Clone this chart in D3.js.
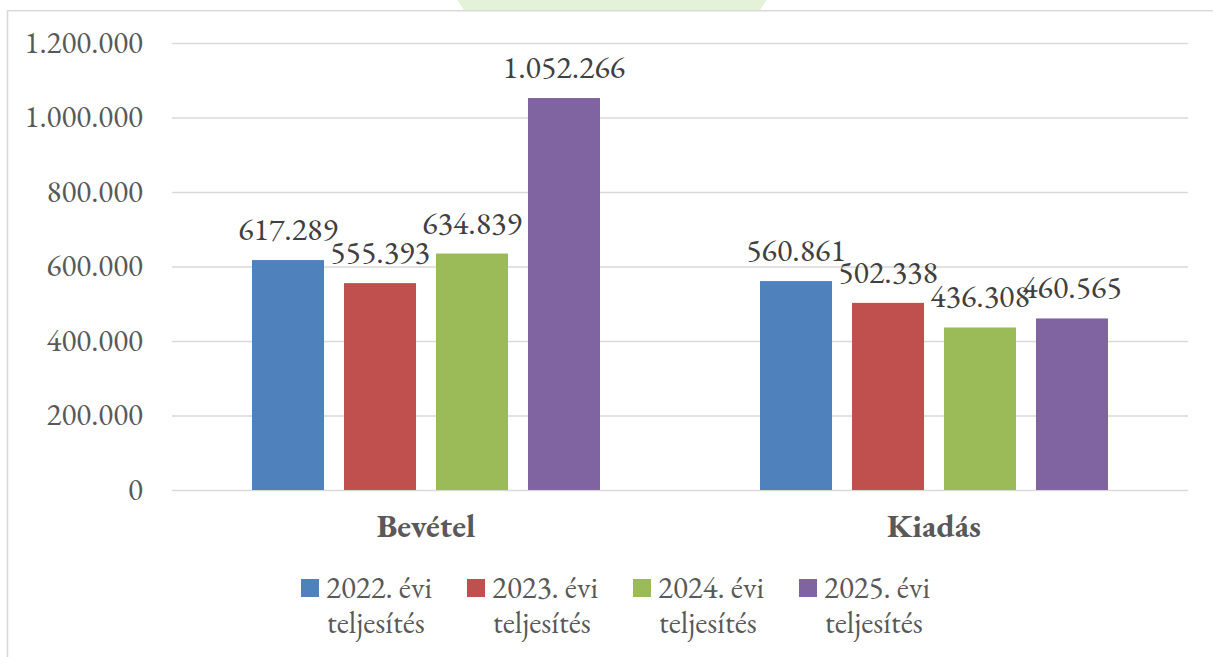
<!DOCTYPE html>
<html>
<head>
<meta charset="utf-8">
<script src="https://cdn.jsdelivr.net/npm/d3@7"></script>
<style>
  body { margin: 0; background: #fff; }
</style>
</head>
<body>
<div id="chart"></div>
<script>
(function barChart(){

  //data
  var categories = ['Bevétel', 'Kiadás'];
  var series = ['2022. évi teljesítés', '2023. évi teljesítés', '2024. évi teljesítés', '2025. évi teljesítés'];
  var values2022 = [617289, 560861];
  var values2023 = [555393, 502338];
  var values2024 = [634839, 436308];
  var values2025 = [1052266, 460565];
  var yTicks = [0, 200000, 400000, 600000, 800000, 1000000, 1200000];
  var colors = ['#4f81bd', '#c0504d', '#9bbb59', '#8064a2'];

  var font = '"EB Garamond", "Liberation Serif", serif';

  var allValues = [values2022, values2023, values2024, values2025];
  var rows = [];
  categories.forEach(function(c, i){
    series.forEach(function(s, j){
      rows.push({cat: c, ser: s, value: allValues[j][i], idx: j});
    });
  });

  var W = 1213, H = 657;
  var plot = {left: 172, right: 1188, top: 43, bottom: 490};

  var svg = d3.select('#chart').append('svg')
      .attr('width', W).attr('height', H);

  //decoration at the top (page shape peeking above the chart frame)
  svg.append('circle')
      .attr('cx', 612).attr('cy', -94).attr('r', 181)
      .attr('fill', '#e3f2d9');
  svg.append('rect')
      .attr('x', 7).attr('y', 11).attr('width', W).attr('height', H)
      .attr('fill', '#fff');
  //frame
  svg.append('path')
      .attr('d', 'M7.5,' + H + 'V10.8H' + W)
      .attr('fill', 'none')
      .attr('stroke', '#d9d9d9')
      .attr('stroke-width', 1.6);

  //scales
  var x0 = d3.scaleBand().domain(categories).range([plot.left, plot.right]);
  var side = (x0.bandwidth() - 348) / 2;
  var x1 = d3.scaleBand().domain(series)
      .range([side, x0.bandwidth() - side])
      .paddingInner(0.217).paddingOuter(0);
  var y = d3.scaleLinear().domain([0, 1200000]).range([plot.bottom, plot.top]);

  var fmt = d3.formatLocale({decimal: ',', thousands: '.', grouping: [3], currency: ['', '']}).format(',');

  //grid + y axis
  var yAxis = d3.axisLeft(y).tickValues(yTicks).tickFormat(fmt)
      .tickSize(-(plot.right - plot.left)).tickPadding(29);
  var gy = svg.append('g')
      .attr('transform', 'translate(' + plot.left + ',0)')
      .call(yAxis);
  gy.select('.domain').remove();
  gy.selectAll('.tick line').attr('stroke', '#d9d9d9').attr('stroke-width', 1.6);
  gy.selectAll('.tick text')
      .attr('fill', '#595959')
      .attr('dy', '0.3em')
      .style('font-family', font)
      .style('font-size', '31px');

  //bars
  svg.selectAll('.bar')
      .data(rows)
      .enter()
      .append('rect')
      .attr('class', 'bar')
      .attr('fill', function(d){ return colors[d.idx]; })
      .attr('x', function(d){ return x0(d.cat) + x1(d.ser); })
      .attr('y', function(d){ return y(d.value); })
      .attr('width', x1.bandwidth())
      .attr('height', function(d){ return y(0) - y(d.value); });

  //value labels
  svg.selectAll('.lbl')
      .data(rows)
      .enter()
      .append('text')
      .attr('class', 'lbl')
      .attr('x', function(d){ return x0(d.cat) + x1(d.ser) + x1.bandwidth() / 2; })
      .attr('y', function(d){ return y(d.value) - 20; })
      .attr('text-anchor', 'middle')
      .attr('fill', '#404040')
      .style('font-family', font)
      .style('font-size', '32px')
      .text(function(d){ return fmt(d.value); });

  //category labels
  var xAxis = d3.axisBottom(x0).tickSize(0).tickPadding(0);
  var gx = svg.append('g')
      .attr('transform', 'translate(0,' + plot.bottom + ')')
      .call(xAxis);
  gx.select('.domain').remove();
  gx.selectAll('.tick text')
      .attr('fill', '#595959')
      .attr('dy', 0)
      .attr('y', 47)
      .style('font-family', font)
      .style('font-weight', 'bold')
      .style('font-size', '33px');

  //legend, two lines per entry
  var legend = svg.append('g').attr('class', 'legend');
  var item = legend.selectAll('g')
      .data(series)
      .enter()
      .append('g')
      .attr('transform', function(d, i){ return 'translate(' + (301 + i * 166) + ',579)'; });
  item.append('rect')
      .attr('width', 18).attr('height', 18)
      .attr('fill', function(d, i){ return colors[i]; });
  item.append('text')
      .attr('x', 25).attr('y', 19)
      .attr('fill', '#595959')
      .style('font-family', font)
      .style('font-size', '31px')
      .text(function(d){ return d.split(' ').slice(0, 2).join(' '); });
  item.append('text')
      .attr('x', 26).attr('y', 54)
      .attr('fill', '#595959')
      .style('font-family', font)
      .style('font-size', '31px')
      .text(function(d){ return d.split(' ').slice(2).join(' '); });

})();
</script>
</body>
</html>
